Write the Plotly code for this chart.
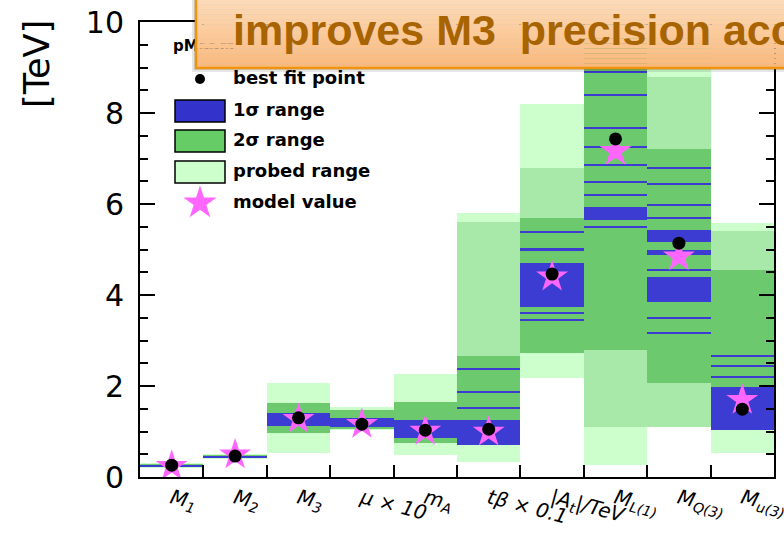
import plotly.graph_objects as go

# ---------------- data ----------------
categories = ["M1", "M2", "M3", "mu10", "mA", "tb01", "At", "ML1", "MQ3", "Mu3"]
tick_text = ["<i>M<sub>1</sub></i>", "<i>M<sub>2</sub></i>", "<i>M<sub>3</sub></i>",
             "<i>μ × 10</i>", "<i>m<sub>A</sub></i>", "<i>tβ × 0.1</i>",
             "<i>|A<sub>t</sub>|/TeV</i>", "<i>M<sub>L(1)</sub></i>",
             "<i>M<sub>Q(3)</sub></i>", "<i>M<sub>u(3)</sub></i>"]

probed_lo = [0.20, 0.40, 0.53, 1.04, 0.48, 0.33, 2.18, 0.26, 1.10, 0.52]
probed_hi = [0.30, 0.50, 2.07, 1.54, 2.26, 5.80, 8.20, 10.0, 10.0, 5.58]

sig2_lo = [0.22, 0.42, 0.97, 1.06, 0.75, 0.75, 2.72, 2.80, 2.07, 1.03]
sig2_hi = [0.28, 0.48, 1.63, 1.48, 1.65, 2.65, 5.70, 10.0, 7.20, 4.55]

# sparse parts of the 2 sigma range (mixed light / green stripes)
sig2s_cat = ["tb01", "At", "ML1", "MQ3", "MQ3", "Mu3"]
sig2s_lo = [2.65, 5.70, 1.10, 7.20, 1.10, 4.55]
sig2s_hi = [5.60, 6.80, 2.80, 8.80, 2.07, 5.40]

# dense 1 sigma segments
sig1_cat = ["M1", "M2", "M3", "mu10", "mA", "tb01", "At", "ML1", "MQ3", "MQ3", "MQ3", "Mu3"]
sig1_lo = [0.24, 0.43, 1.12, 1.10, 0.85, 0.70, 3.74, 5.65, 3.85, 4.88, 5.16, 1.03]
sig1_hi = [0.27, 0.47, 1.41, 1.30, 1.25, 1.25, 4.70, 5.93, 4.40, 5.00, 5.43, 1.98]

# isolated 1 sigma stripes
sig1_line_cat = ["tb01", "tb01", "tb01", "At", "At", "At", "At",
                 "ML1", "ML1", "ML1", "ML1", "ML1", "ML1", "ML1", "ML1",
                 "MQ3", "MQ3", "MQ3", "MQ3", "MQ3", "MQ3", "MQ3",
                 "Mu3", "Mu3", "Mu3"]
sig1_line_val = [1.52, 1.87, 2.37, 5.38, 5.00, 3.60, 3.45,
                 5.49, 6.20, 6.48, 6.86, 7.25, 7.67, 8.40, 8.90,
                 5.69, 5.98, 6.44, 6.79, 4.55, 3.49, 3.16,
                 2.20, 2.45, 2.66]

best_fit = [0.26, 0.46, 1.30, 1.16, 1.03, 1.05, 4.46, 7.43, 5.14, 1.49]
model_value = [0.24, 0.49, 1.27, 1.16, 1.01, 0.99, 4.40, 7.16, 4.84, 1.69]

legend_labels = ["best fit point", "1σ range", "2σ range", "probed range", "model value"]
legend_title = "pMSSM"
box_text = "improves M3  precision acc"

# ---------------- styles ----------------
C_PROBED = "#CCFFCC"
C_SIG2 = "#6DC96D"
C_SIG2S = "#A8E8A8"
C_SIG1 = "#3C3CD2"
C_LEG1 = "#3333CC"
C_LEG2 = "#66CC66"
C_STAR = "#FF66FF"
FONT = "DejaVu Sans"

W, H = 784, 535
L, R, T, B = 140, 10, 22, 58
PW, PH = W - L - R, H - T - B


def px(x):
    return (x - L) / PW


def py(y):
    return (H - B - y) / PH


fig = go.Figure()


def bars(cats, lo, hi, color):
    fig.add_trace(go.Bar(x=cats, base=lo, y=[h - l for l, h in zip(lo, hi)],
                         width=1.0, marker=dict(color=color, line=dict(width=0)),
                         showlegend=False, hoverinfo="skip"))


bars(categories, probed_lo, probed_hi, C_PROBED)
bars(sig2s_cat, sig2s_lo, sig2s_hi, C_SIG2S)
bars(categories, sig2_lo, sig2_hi, C_SIG2)
bars(sig1_cat, sig1_lo, sig1_hi, C_SIG1)
LINE_T = 0.045
bars(sig1_line_cat, [v - LINE_T / 2 for v in sig1_line_val],
     [v + LINE_T / 2 for v in sig1_line_val], C_SIG1)

fig.add_trace(go.Scatter(x=categories, y=model_value, mode="markers",
                         marker=dict(symbol="star", size=24, color=C_STAR, line=dict(width=0)),
                         showlegend=False, hoverinfo="skip"))
fig.add_trace(go.Scatter(x=categories, y=best_fit, mode="markers",
                         marker=dict(symbol="circle", size=13, color="black", line=dict(width=0)),
                         showlegend=False, hoverinfo="skip"))

# ---------------- hand-drawn legend on an overlay pixel axis ----------------
leg_y = [398, 366, 336, 305, 274]
fig.add_trace(go.Scatter(x=[60], y=[leg_y[0]], mode="markers", xaxis="x2", yaxis="y2",
                         marker=dict(symbol="circle", size=10, color="black"),
                         showlegend=False, hoverinfo="skip"))
fig.add_trace(go.Scatter(x=[60], y=[leg_y[4]], mode="markers", xaxis="x2", yaxis="y2",
                         marker=dict(symbol="star", size=25, color=C_STAR, line=dict(width=0)),
                         showlegend=False, hoverinfo="skip"))
fig.add_trace(go.Scatter(x=[93] * 5, y=leg_y, mode="text", text=legend_labels,
                         textposition="middle right", xaxis="x2", yaxis="y2",
                         textfont=dict(family=FONT, size=18, color="black", weight="bold"),
                         showlegend=False, hoverinfo="skip"))
fig.add_trace(go.Scatter(x=[33], y=[430], mode="text", text=[legend_title],
                         textposition="middle right", xaxis="x2", yaxis="y2",
                         textfont=dict(family=FONT, size=15, color="black", weight="bold"),
                         showlegend=False, hoverinfo="skip"))

shapes = []
for yc, col in zip(leg_y[1:4], [C_LEG1, C_LEG2, C_PROBED]):
    shapes.append(dict(type="rect", xref="x2", yref="y2", x0=35, x1=85, y0=yc - 11, y1=yc + 11,
                       fillcolor=col, line=dict(color="black", width=1.5), layer="above"))

# ---------------- orange call-out box ----------------
bx0, bx1, by0, by1 = 196, 800, -10, 68
shapes.append(dict(type="rect", xref="paper", yref="paper", x0=px(bx0 - 4), x1=px(bx1),
                   y0=py(by1 + 4), y1=py(by0), fillcolor="rgba(0,0,0,0.10)",
                   line=dict(width=0), layer="above"))
shapes.append(dict(type="rect", xref="paper", yref="paper", x0=px(bx0 - 2), x1=px(bx1),
                   y0=py(by1 + 2), y1=py(by0), fillcolor="rgba(0,0,0,0.12)",
                   line=dict(width=0), layer="above"))
top_rgb, bot_rgb = (253, 224, 194), (250, 184, 122)
nb = 16
for i in range(nb):
    f = (i + 0.5) / nb
    c = tuple(round(top_rgb[k] + (bot_rgb[k] - top_rgb[k]) * f) for k in range(3))
    ya = by0 + (by1 - by0) * i / nb
    yb = by0 + (by1 - by0) * (i + 1) / nb
    shapes.append(dict(type="rect", xref="paper", yref="paper", x0=px(bx0), x1=px(bx1),
                       y0=py(yb), y1=py(ya), fillcolor="rgb(%d,%d,%d)" % c,
                       line=dict(width=0), layer="above"))
shapes.append(dict(type="rect", xref="paper", yref="paper", x0=px(bx0), x1=px(bx1),
                   y0=py(by1), y1=py(by0), fillcolor="rgba(0,0,0,0)",
                   line=dict(color="#F0940F", width=2.5), layer="above"))

annotations = [
    dict(xref="paper", yref="paper", x=px(231), y=py(30), xanchor="left", yanchor="middle",
         text="<b>" + box_text + "</b>", showarrow=False,
         font=dict(family="Liberation Sans", size=43, color="#A86400")),
    dict(xref="paper", yref="paper", x=px(37), y=py(64), xanchor="center", yanchor="middle",
         text="[TeV]", textangle=-90, showarrow=False,
         font=dict(family=FONT, size=35, color="black")),
]

fig.update_layout(
    width=W, height=H, margin=dict(l=L, r=R, t=T, b=B, autoexpand=False),
    paper_bgcolor="white", plot_bgcolor="white", barmode="overlay", bargap=0,
    shapes=shapes, annotations=annotations,
    xaxis=dict(type="category", categoryorder="array", categoryarray=categories,
               range=[-0.5, 9.5], tickmode="array", tickvals=categories, ticktext=tick_text,
               tickson="boundaries", ticks="inside", ticklen=12, tickwidth=2, tickcolor="black",
               showline=True, linewidth=2, linecolor="black", mirror="ticks", showgrid=False,
               tickangle=15, tickfont=dict(family=FONT, size=20, color="black")),
    yaxis=dict(range=[0, 10], dtick=2, tick0=0, ticks="inside", ticklen=15, tickwidth=2,
               tickcolor="black", showline=True, linewidth=2, linecolor="black", mirror="ticks",
               showgrid=False, zeroline=False, ticklabelstandoff=8,
               tickfont=dict(family=FONT, size=30, color="black"),
               minor=dict(dtick=0.5, ticks="inside", ticklen=8, tickwidth=1.5, tickcolor="black",
                          showgrid=False)),
    xaxis2=dict(overlaying="x", anchor="y2", range=[0, PW], visible=False, fixedrange=True),
    yaxis2=dict(overlaying="y", anchor="x2", range=[0, PH], visible=False, fixedrange=True),
)

fig.write_html("out.html", config={"displayModeBar": False},
               post_script="document.body.style.margin='0px';document.body.style.overflow='hidden';")
